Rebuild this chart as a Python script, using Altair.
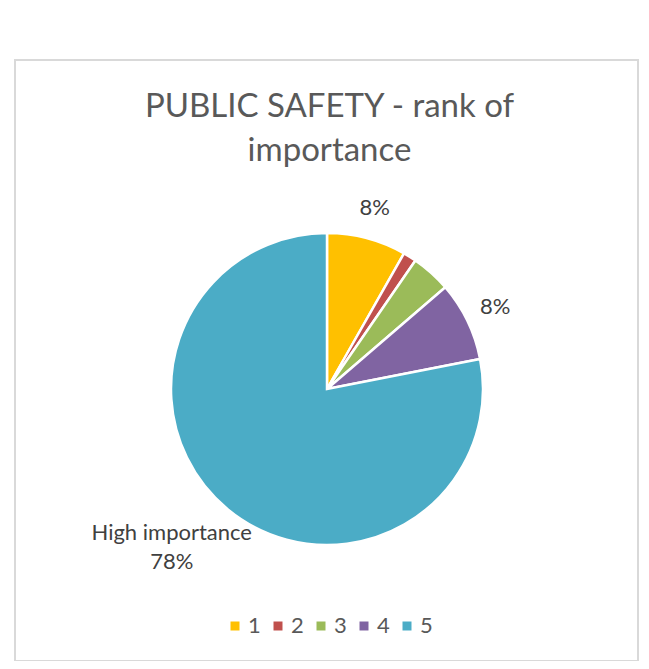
import altair as alt
import pandas as pd

# ---- data ----
ranks = ["1", "2", "3", "4", "5"]
counts = [6, 1, 3, 6, 57]
order_idx = [1, 2, 3, 4, 5]
colors = ["#FFC000", "#C0504D", "#9BBB59", "#8064A2", "#4BACC6"]
label_prefix = ["", "", "", "", "High importance"]
show_label = [1, 0, 0, 1, 1]
title_lines = ["PUBLIC SAFETY - rank of", "importance"]

df = pd.DataFrame({
    "rank": ranks,
    "count": counts,
    "ord": order_idx,
    "prefix": label_prefix,
    "show": show_label,
})

FONT = "Lato"
VW, VH = 623, 601
CX, CY, R = 312, 329, 156

base = alt.Chart(df).transform_joinaggregate(
    total="sum(count)"
).transform_calculate(
    small="datum.show == 1 && datum.prefix == '' ? format(datum.count / datum.total, '.0%') : ''",
    big="datum.show == 1 && datum.prefix != '' ? datum.prefix + '\\n' + format(datum.count / datum.total, '.0%') : ''",
).encode(
    theta=alt.Theta("count:Q", stack=True),
    order=alt.Order("ord:Q", sort="ascending"),
)

color_enc = alt.Color(
    "rank:N",
    scale=alt.Scale(domain=ranks, range=colors),
    legend=alt.Legend(
        title=None,
        orient="none",
        legendX=209,
        legendY=555,
        direction="horizontal",
        symbolType="square",
        symbolSize=81,
        symbolStrokeWidth=0,
        labelFont=FONT,
        labelFontSize=22,
        labelColor="#595959",
        labelOffset=2,
        columnPadding=6,
        padding=0,
    ),
)

frame = alt.Chart(df).mark_rect(
    filled=False, stroke="#D9D9D9", strokeWidth=2
).encode(
    x=alt.value(0), x2=alt.value(VW), y=alt.value(0), y2=alt.value(VH)
).transform_filter("datum.ord == 1")

arcs = base.mark_arc(
    x=CX, y=CY, outerRadius=R, stroke="white", strokeWidth=2.5
).encode(color=color_enc)

small_labels = base.mark_text(
    x=CX, y=CY, radius=187, font=FONT, fontSize=22, color="#404040"
).encode(text="small:N")

big_label = base.mark_text(
    x=CX, y=CY, radius=205, dx=-25, dy=-14, font=FONT, fontSize=22,
    color="#404040", lineBreak="\n", lineHeight=29
).encode(text="big:N")

chart = alt.layer(frame, arcs, small_labels, big_label).properties(
    width=VW,
    height=VH,
    padding={"left": 7, "top": 52, "right": 3, "bottom": 0},
    autosize=alt.AutoSizeParams(type="none"),
    title=alt.TitleParams(
        text=title_lines,
        font=FONT,
        fontSize=33,
        fontWeight="normal",
        color="#595959",
        anchor="middle",
        offset=0,
        baseline="alphabetic",
        dy=135,
        dx=3,
        lineHeight=44,
    ),
).configure_view(
    stroke="#D9D9D9", strokeWidth=2
)

chart.save("out.html", embed_options={"renderer": "svg", "actions": False})
